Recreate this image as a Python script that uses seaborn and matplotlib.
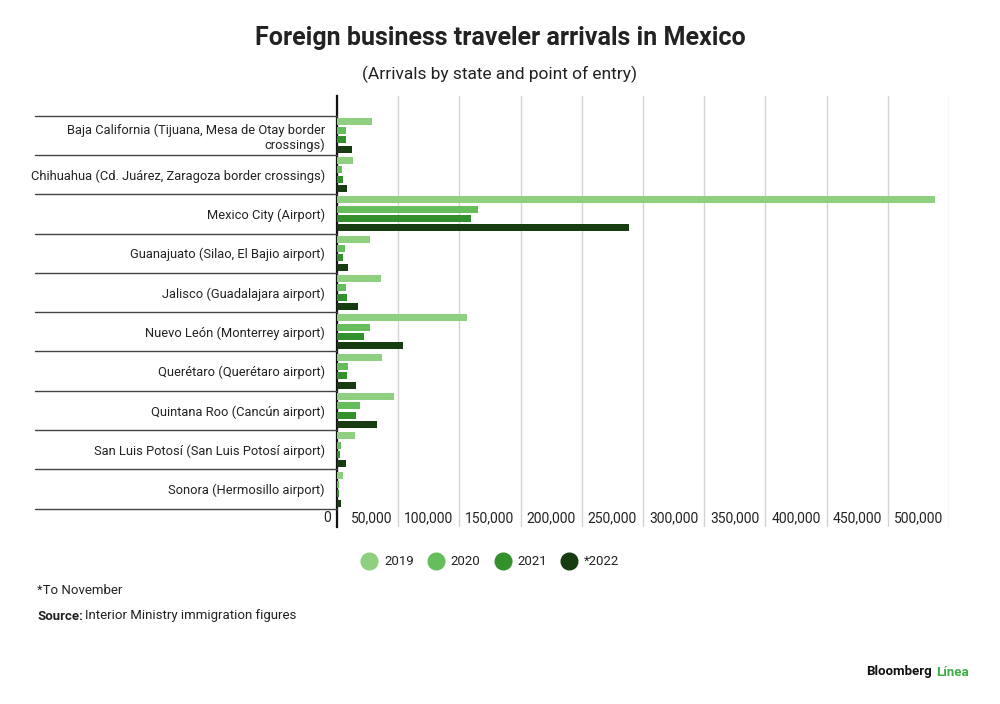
import matplotlib
matplotlib.use("Agg")
import matplotlib.pyplot as plt
import matplotlib.transforms as mtransforms
from matplotlib.lines import Line2D
import seaborn as sns
import pandas as pd

# %%
states = [
    "Baja California (Tijuana, Mesa de Otay border\ncrossings)",
    "Chihuahua (Cd. Juárez, Zaragoza border crossings)",
    "Mexico City (Airport)",
    "Guanajuato (Silao, El Bajio airport)",
    "Jalisco (Guadalajara airport)",
    "Nuevo León (Monterrey airport)",
    "Querétaro (Querétaro airport)",
    "Quintana Roo (Cancún airport)",
    "San Luis Potosí (San Luis Potosí airport)",
    "Sonora (Hermosillo airport)",
]
years = ["2019", "2020", "2021", "*2022"]

# values (arrivals)
arr_2019 = [28500, 13100, 488400, 26700, 36200, 106400, 37000, 46500, 14700, 5200]
arr_2020 = [7100, 3800, 114800, 6300, 7100, 26700, 8700, 19000, 3500, 1900]
arr_2021 = [7100, 4600, 109600, 4600, 7900, 22300, 7900, 15500, 2700, 1900]
arr_2022 = [12200, 7900, 238900, 8700, 17400, 54100, 15500, 32600, 7100, 3500]

xticks = [0, 50000, 100000, 150000, 200000, 250000, 300000, 350000, 400000, 450000, 500000]

colors = ["#8fcf80", "#66bd5b", "#33912d", "#173c12"]
text_color = "#222222"

# %%
df = pd.DataFrame(
    {
        "state": states * 4,
        "year": [y for y in years for _ in states],
        "arrivals": arr_2019 + arr_2020 + arr_2021 + arr_2022,
    }
)

sns.set_theme(style="white")
plt.rcParams["font.family"] = ["Roboto", "DejaVu Sans"]
plt.rcParams["text.color"] = text_color

fig = plt.figure(figsize=(10, 7.04), dpi=100)
ax = fig.add_axes([0.337, 0.2514, 0.612, 0.6122])

sns.barplot(
    data=df,
    y="state",
    x="arrivals",
    hue="year",
    order=states,
    hue_order=years,
    palette=colors,
    orient="h",
    width=0.95,
    gap=0.25,
    saturation=1,
    linewidth=0,
    edgecolor="none",
    legend=False,
    ax=ax,
)

ax.set_xlim(0, 500000)
ax.set_ylim(9.966, -1.0)
ax.set_xlabel("")
ax.set_ylabel("")

# grid
ax.set_xticks(xticks)
ax.set_xticklabels([])
ax.tick_params(axis="x", length=0)
ax.grid(axis="x", color="#d4d4d4", linewidth=1)
ax.set_axisbelow(True)
for s in ["top", "right", "bottom"]:
    ax.spines[s].set_visible(False)
ax.spines["left"].set_color("#111111")
ax.spines["left"].set_linewidth(1.6)
ax.spines["left"].set_zorder(0.8)

# x tick labels: right aligned just left of each gridline
off = mtransforms.offset_copy(ax.transData, fig=fig, x=-6, y=0, units="dots")
for v in xticks:
    ax.text(v, 9.74, f"{v:,}", transform=off, ha="right", va="center",
            fontsize=10, color=text_color)

# category labels
ax.tick_params(axis="y", length=0, pad=8.6, labelsize=9.3, labelcolor=text_color)
for lab in ax.get_yticklabels():
    lab.set_horizontalalignment("right")
    lab.set_multialignment("right")

# separators between categories, in the label area
sep = mtransforms.blended_transform_factory(ax.transAxes, ax.transData)
for i in range(len(states) + 1):
    ax.plot([-0.4935, 0], [i - 0.5, i - 0.5], transform=sep, color="#444444",
            linewidth=1, clip_on=False)

# legend
handles = [
    Line2D([], [], marker="o", linestyle="", markersize=12, color=c, label=y)
    for c, y in zip(colors, years)
]
fig.legend(
    handles=handles,
    loc="center",
    bbox_to_anchor=(0.491, 0.202),
    ncol=4,
    frameon=False,
    fontsize=9.5,
    handletextpad=0.6,
    columnspacing=1.2,
    handlelength=1.0,
)

# titles
fig.text(0.5, 1 - 38 / 704, "Foreign business traveler arrivals in Mexico",
         ha="center", va="center", fontsize=18, fontweight="bold", color=text_color)
fig.text(0.5, 1 - 74 / 704, "(Arrivals by state and point of entry)",
         ha="center", va="center", fontsize=12.5, color=text_color)

# footer
fig.text(0.037, 1 - 590 / 704, "*To November", ha="left", va="center",
         fontsize=9.5, color=text_color)
src = fig.text(0.037, 1 - 616 / 704, "Source:", ha="left", va="center",
               fontsize=9.5, fontweight="bold", color=text_color)
ax.annotate("Interior Ministry immigration figures", xy=(1, 0.5), xycoords=src,
            xytext=(1.5, 0), textcoords="offset points", ha="left", va="center",
            fontsize=9.5, color=text_color, annotation_clip=False)

bb = fig.text(0.866, 1 - 672 / 704, "Bloomberg", ha="left", va="center",
              fontsize=9.5, fontweight="bold", color="#111111")
ax.annotate("Línea", xy=(1, 0.5), xycoords=bb, xytext=(3, 0),
            textcoords="offset points", ha="left", va="center", fontsize=9.5,
            fontweight="bold", color="#3dae45", annotation_clip=False)

fig.savefig("out.png", dpi=100, facecolor="white")
